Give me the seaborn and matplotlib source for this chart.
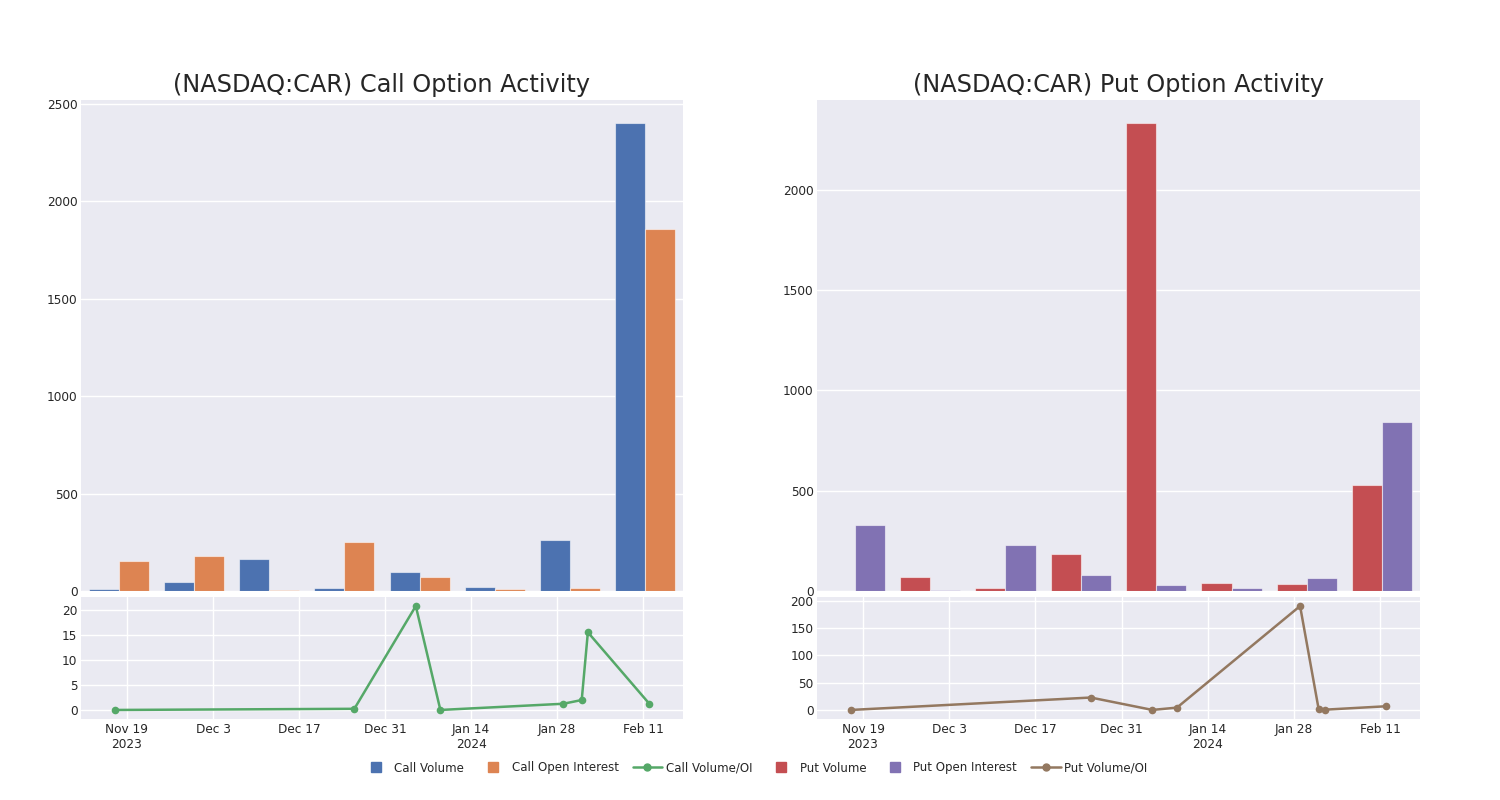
import matplotlib
matplotlib.use("Agg")
import matplotlib.pyplot as plt
from matplotlib.lines import Line2D
from matplotlib.ticker import MultipleLocator
import seaborn as sns
import pandas as pd

# ---------------- data ----------------
dates = ["2023-11-17", "2023-12-26", "2024-01-05", "2024-01-09",
         "2024-01-29", "2024-02-01", "2024-02-02", "2024-02-12"]
call_volume = [12, 48, 163, 17, 100, 22, 261, 2400]
call_open_interest = [154, 180, 7, 254, 74, 10, 15, 1858]
call_vol_oi = [0.1, 0.33, 20.7, 0.1, 1.33, 2.07, 15.5, 1.33]
put_volume = [1, 68, 13, 186, 2330, 38, 35, 528]
put_open_interest = [328, 3, 228, 78, 30, 15, 67, 844]
put_vol_oi = [0.0, 22.8, 0.06, 4.3, 190.7, 2.5, 0.5, 6.8]
tick_dates = ["2023-11-19", "2023-12-03", "2023-12-17", "2023-12-31",
              "2024-01-14", "2024-01-28", "2024-02-11"]
tick_labels = ["Nov 19\n2023", "Dec 3", "Dec 17", "Dec 31",
               "Jan 14\n2024", "Jan 28", "Feb 11"]
ratio_tick_steps = [5, 50]
titles = ["(NASDAQ:CAR) Call Option Activity", "(NASDAQ:CAR) Put Option Activity"]
legend_labels = ["Call Volume", "Call Open Interest", "Call Volume/OI",
                 "Put Volume", "Put Open Interest", "Put Volume/OI"]

# ---------------- style ----------------
sns.set_theme(style="darkgrid")
plt.rcParams["font.family"] = ["DejaVu Sans"]
deep = sns.color_palette("deep")
c_callv, c_calloi, c_callr = deep[0], deep[1], deep[2]
c_putv, c_putoi, c_putr = deep[3], deep[4], deep[5]
text_color = "#262626"
tick_fs = 8.7

fig = plt.figure(figsize=(15, 8), dpi=100)
fig.patch.set_facecolor("white")

W, H = 1500, 800
def box(x0, y0, x1, y1):
    return [x0 / W, 1 - y1 / H, (x1 - x0) / W, (y1 - y0) / H]

panels = [
    (box(81, 100, 683, 591), box(81, 597, 683, 719),
     call_volume, call_open_interest, call_vol_oi, ratio_tick_steps[0],
     [c_callv, c_calloi], c_callr, titles[0], legend_labels[0:2]),
    (box(817, 100, 1420, 591), box(817, 597, 1420, 719),
     put_volume, put_open_interest, put_vol_oi, ratio_tick_steps[1],
     [c_putv, c_putoi], c_putr, titles[1], legend_labels[3:5]),
]

date_idx = pd.to_datetime(dates)
tick_idx = pd.to_datetime(tick_dates)

for top_box, bot_box, vol, oi, ratio, step, bar_cols, line_col, title, names in panels:
    ax = fig.add_axes(top_box)
    df = pd.DataFrame({
        "date": dates * 2,
        "value": vol + oi,
        "series": [names[0]] * len(dates) + [names[1]] * len(dates),
    })
    sns.barplot(data=df, x="date", y="value", hue="series", palette=bar_cols,
                saturation=1, errorbar=None, width=0.8, ax=ax, legend=False,
                edgecolor=(1, 1, 1, 0.55), linewidth=0.8)
    ax.set_xlim(-0.5, len(dates) - 0.5)
    ax.set_ylim(0, max(max(vol), max(oi)) * 1.05)
    ax.tick_params(axis="x", labelbottom=False, length=0)
    ax.tick_params(axis="y", labelsize=tick_fs, colors=text_color, length=0, pad=2.5)
    ax.set_xlabel("")
    ax.set_ylabel("")
    ax.set_title(title, fontsize=17.3, color=text_color, pad=6)
    for s in ax.spines.values():
        s.set_visible(False)

    bx = fig.add_axes(bot_box)
    sns.lineplot(x=date_idx, y=ratio, ax=bx, color=line_col, linewidth=1.8,
                 marker="o", markersize=5.5, markeredgewidth=0)
    span = (date_idx.max() - date_idx.min())
    xpad = span * 0.063
    bx.set_xlim(date_idx.min() - xpad, date_idx.max() + xpad)
    rng = max(ratio) - min(ratio)
    bx.set_ylim(min(ratio) - 0.087 * rng, max(ratio) + 0.087 * rng)
    bx.yaxis.set_major_locator(MultipleLocator(step))
    bx.set_xticks(tick_idx)
    bx.set_xticklabels(tick_labels)
    bx.tick_params(axis="x", labelsize=tick_fs, colors=text_color, length=0, pad=3)
    bx.tick_params(axis="y", labelsize=tick_fs, colors=text_color, length=0, pad=2.5)
    bx.set_xlabel("")
    bx.set_ylabel("")
    for s in bx.spines.values():
        s.set_visible(False)

handles = [
    Line2D([], [], linestyle="none", marker="s", markersize=7, color=c_callv),
    Line2D([], [], linestyle="none", marker="s", markersize=7, color=c_calloi),
    Line2D([], [], color=c_callr, linewidth=1.8, marker="o", markersize=5),
    Line2D([], [], linestyle="none", marker="s", markersize=7, color=c_putv),
    Line2D([], [], linestyle="none", marker="s", markersize=7, color=c_putoi),
    Line2D([], [], color=c_putr, linewidth=1.8, marker="o", markersize=5),
]
leg = fig.legend(handles, legend_labels, loc="center", bbox_to_anchor=(0.503, 1 - 768 / H),
                 ncol=6, frameon=False, fontsize=8.5, handlelength=2.5,
                 columnspacing=1.2, handletextpad=0.3)
for t in leg.get_texts():
    t.set_color(text_color)

fig.savefig("out.png", dpi=100, facecolor="white")
